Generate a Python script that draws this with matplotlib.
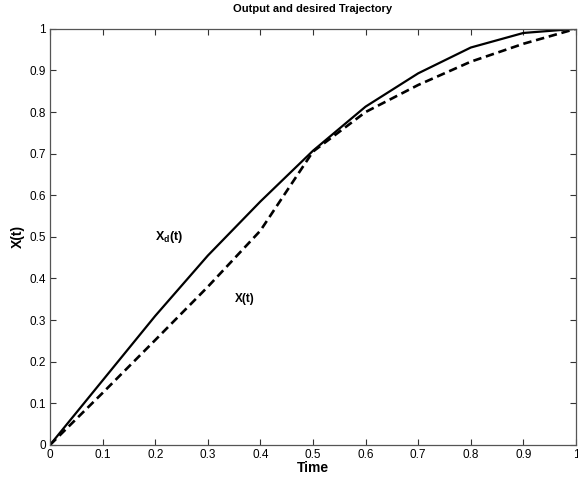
import matplotlib
matplotlib.use("Agg")
import matplotlib.pyplot as plt

# time samples and the two trajectories
t = [0, 0.1, 0.2, 0.3, 0.4, 0.5, 0.6, 0.7, 0.8, 0.9, 1.0]
x_desired = [0, 0.155, 0.31, 0.455, 0.585, 0.707, 0.813, 0.893, 0.955, 0.99, 1.0]
x_output = [0, 0.125, 0.252, 0.38, 0.515, 0.705, 0.80, 0.865, 0.921, 0.964, 1.0]

ticks = [0, 0.1, 0.2, 0.3, 0.4, 0.5, 0.6, 0.7, 0.8, 0.9, 1.0]
tick_labels = ['0', '0.1', '0.2', '0.3', '0.4', '0.5', '0.6', '0.7', '0.8', '0.9', '1']

plt.rcParams['font.family'] = ['Liberation Sans', 'DejaVu Sans']
plt.rcParams['mathtext.fontset'] = 'custom'
plt.rcParams['mathtext.rm'] = 'Liberation Sans'
plt.rcParams['mathtext.bf'] = 'Liberation Sans:bold'

fig = plt.figure(figsize=(5.78, 4.8), dpi=100)
ax = fig.add_axes([0.0865, 0.073, 0.910, 0.867])

ax.plot(t, x_desired, color='black', lw=1.6, solid_joinstyle='round')
ax.plot(t, x_output, color='black', lw=1.9, ls=(0, (3.2, 1.8)))

ax.set_xlim(0, 1)
ax.set_ylim(0, 1)
ax.set_xticks(ticks)
ax.set_xticklabels(tick_labels)
ax.set_yticks(ticks)
ax.set_yticklabels(tick_labels)
ax.tick_params(direction='in', top=True, right=True, length=4, width=0.8,
               labelsize=8.5, colors='#333333', labelcolor='black', pad=3)
for s in ax.spines.values():
    s.set_color('#555555')
    s.set_linewidth(0.9)

ax.set_title('Output and desired Trajectory', fontsize=8, fontweight='bold', pad=12)
ax.set_xlabel('Time', fontsize=10, fontweight='bold', labelpad=0)
ax.set_ylabel('X(t)', fontsize=10, fontweight='bold', labelpad=3)

ax.text(0.200, 0.500, r'$\mathbf{X_d(t)}$', fontsize=9, va='center', ha='left')
ax.text(0.352, 0.350, 'X(t)', fontsize=8.5, fontweight='bold', va='center', ha='left')

fig.savefig('out.png', dpi=100)
